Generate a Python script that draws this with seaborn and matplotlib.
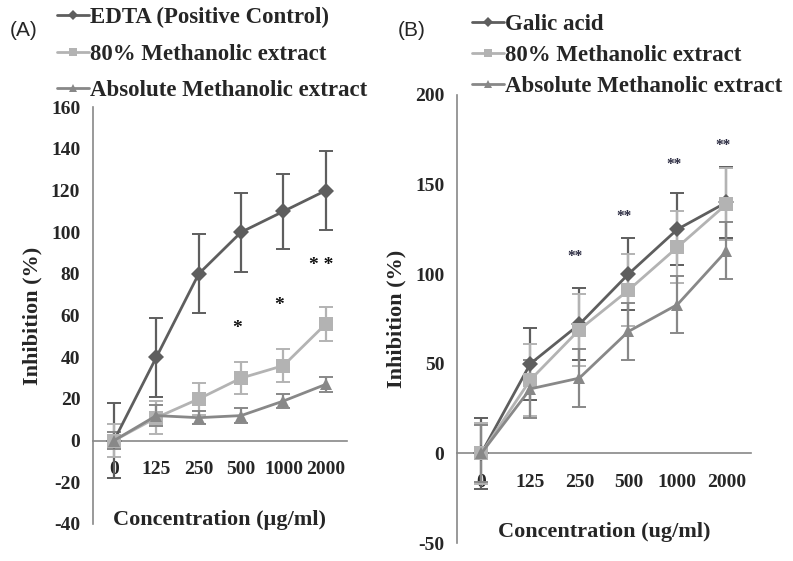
import numpy as np
import pandas as pd
import matplotlib
matplotlib.use("Agg")
import matplotlib.pyplot as plt
import seaborn as sns
from matplotlib.lines import Line2D

sns.set_style("white")
plt.rcParams['font.family'] = ['Liberation Serif', 'DejaVu Serif']
plt.rcParams['font.weight'] = 'bold'
plt.rcParams['axes.labelweight'] = 'bold'

# ---------------------------------------------------------------------------
# Data
# ---------------------------------------------------------------------------
conc = ["0", "125", "250", "500", "1000", "2000"]

# panel A
a_names = ["EDTA (Positive Control)", "80% Methanolic extract", "Absolute Methanolic extract"]
a_edta = [0, 40, 80, 100, 110, 120]
a_edta_err = [18, 19, 19, 19, 18, 19]
a_m80 = [0, 11, 20, 30, 36, 56]
a_m80_err = [8, 8, 7.5, 7.5, 8, 8]
a_abs = [0, 12, 11, 12, 19, 27]
a_abs_err = [4, 5, 3, 3.5, 3.5, 3.5]
a_star_x = [3, 4, 5]
a_star_y = [54, 65, 84]
a_star_txt = ["*", "*", "* *"]

# panel B
b_names = ["Galic acid", "80% Methanolic extract", "Absolute Methanolic extract"]
b_gal = [0, 50, 72, 100, 125, 140]
b_gal_err = [20, 20, 20, 20, 20, 20]
b_m80 = [0, 41, 69, 91, 115, 139]
b_m80_err = [17, 20, 20, 20, 20, 20]
b_abs = [0, 36, 42, 68, 83, 113]
b_abs_err = [16, 16, 16, 16, 16, 16]
b_star_x = [2, 3, 4, 5]
b_star_y = [110, 132, 161, 172]

colors = ["#5e5e5e", "#b3b3b3", "#888888"]
markers = ["D", "s", "^"]
msizes = [8, 10, 9]


def long_df(names, values):
    rows = []
    for name, vals in zip(names, values):
        for i, v in enumerate(vals):
            rows.append({"x": i, "y": v, "series": name})
    return pd.DataFrame(rows)


def draw_panel(ax, names, values, errs, ylim, yticks, xlabel):
    df = long_df(names, values)
    for name, vals, err, c, m, ms in zip(names, values, errs, colors, markers, msizes):
        sub = df[df["series"] == name]
        sns.lineplot(data=sub, x="x", y="y", color=c, marker=m, markersize=ms,
                     markeredgewidth=0, linewidth=2.0, ax=ax, legend=False, zorder=3)
        eb = ax.errorbar(sub["x"], sub["y"], yerr=err, fmt="none", ecolor=c,
                         elinewidth=1.6, capsize=5, capthick=1.4, zorder=2)
        for cl in eb[1]:
            cl.set_color("#111111")

    ax.set_xlim(-0.5, 5.5)
    ax.set_ylim(*ylim)
    ax.set_yticks(yticks)
    ax.set_yticklabels([str(t) for t in yticks])
    ax.set_xticks(range(len(conc)))
    ax.set_xticklabels(conc)
    ax.set_xticks(np.arange(0.5, 6, 1), minor=True)
    ax.tick_params(axis="x", which="major", length=0, pad=15, labelsize=14)
    ax.tick_params(axis="x", which="minor", length=6, width=1, color="#888888",
                   direction="out")
    ax.tick_params(axis="y", length=5, width=1, color="#888888", direction="out",
                   pad=4, labelsize=14)
    ax.spines["top"].set_visible(False)
    ax.spines["right"].set_visible(False)
    ax.spines["bottom"].set_position(("data", 0))
    for s in ("left", "bottom"):
        ax.spines[s].set_color("#888888")
        ax.spines[s].set_linewidth(1.2)
    ax.set_ylabel("Inhibition (%)", fontsize=16, fontweight="bold", labelpad=6)
    ax.set_xlabel("")
    ax.text(2.5, xlabel[1], xlabel[0], ha="center", va="center", fontsize=16)
    ax.grid(False)


fig = plt.figure(figsize=(7.93, 5.61), dpi=100)
axA = fig.add_axes([0.117, 0.066, 0.3206, 0.743])
axB = fig.add_axes([0.576, 0.032, 0.371, 0.799])

draw_panel(axA, a_names, [a_edta, a_m80, a_abs], [a_edta_err, a_m80_err, a_abs_err],
           (-40, 160), list(range(-40, 161, 20)), ("Concentration (\u00b5g/ml)", -38))
draw_panel(axB, b_names, [b_gal, b_m80, b_abs], [b_gal_err, b_m80_err, b_abs_err],
           (-50, 200), list(range(-50, 201, 50)), ("Concentration (ug/ml)", -44))

for x, y, t in zip(a_star_x, a_star_y, a_star_txt):
    axA.text(x - 0.1, y, t, ha="center", va="center", fontsize=14, color="#111111")
for x, y in zip(b_star_x, b_star_y):
    axB.text(x - 0.08, y, "**", ha="center", va="center", fontsize=11,
             color="#2a2a40")


# legends at the top of each panel
def add_legend(names, anchor, spacing):
    handles = [Line2D([0], [0], color=c, marker=m, markersize=ms * 0.6,
                      markeredgewidth=0, linewidth=2.0)
               for c, m, ms in zip(colors, markers, msizes)]
    return fig.legend(handles, names, loc="upper left", bbox_to_anchor=anchor,
                      frameon=False, handlelength=1.4, handletextpad=0.05,
                      labelspacing=spacing, borderpad=0,
                      prop={"weight": "bold", "size": 16.5})


add_legend(a_names, (0.057, 1.008), 0.68)
add_legend(b_names, (0.581, 0.995), 0.42)

fig.text(0.012, 0.945, "(A)", fontsize=15, fontweight="normal",
         family=["Liberation Sans", "DejaVu Sans"], va="center")
fig.text(0.502, 0.945, "(B)", fontsize=15, fontweight="normal",
         family=["Liberation Sans", "DejaVu Sans"], va="center")

fig.savefig("out.png", dpi=100)
